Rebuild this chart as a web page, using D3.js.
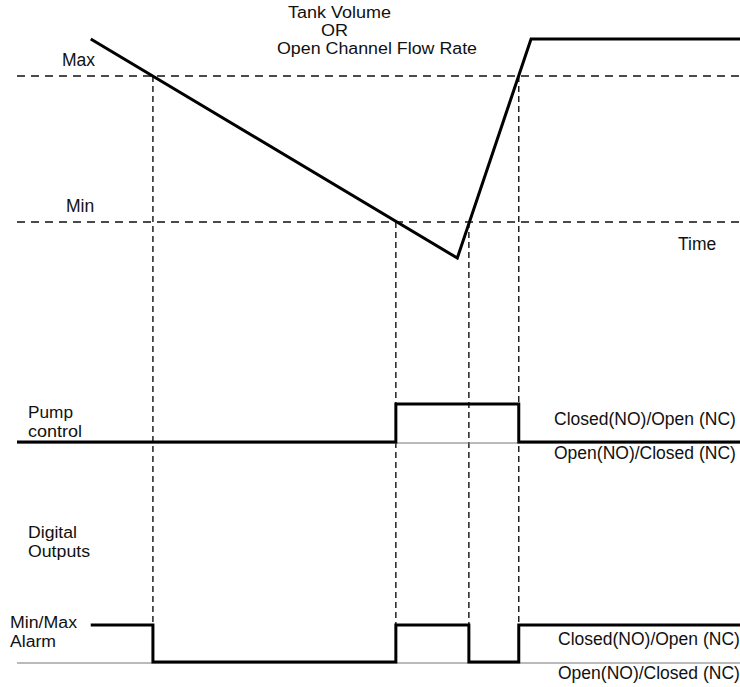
<!DOCTYPE html>
<html>
<head>
<meta charset="utf-8">
<script src="https://cdn.jsdelivr.net/npm/d3@7"></script>
<style>
  html, body { margin: 0; padding: 0; background: #fff; }
  svg text { font-family: "Liberation Sans", Arial, Helvetica, sans-serif; font-size: 17.5px; fill: #111; }
  svg text.stacked { font-size: 16px; }
</style>
</head>
<body>
<div id="app"></div>
<script>
/////////DATA///////////

// level of the tank (0-100), thresholds and the time axis (0-100)
const levelThresholds = [{ name: 'Max', v: 80 }, { name: 'Min', v: 20 }];
const tankTimes = [10.2, 60.9, 71.1, 100];
const tankLevels = [95.2, 5.2, 95.2, 95.2];

// moments where the level crosses a threshold
const crossTimes = [18.8, 52.4, 62.5, 69.4];

// digital outputs: state after each change (1 = Closed(NO)/Open (NC))
const pumpTimes = [0, 52.4, 69.4, 100];
const pumpStates = [0, 1, 0, 0];
const alarmTimes = [10.2, 18.8, 52.4, 62.5, 69.4, 100];
const alarmStates = [1, 0, 1, 0, 1, 1];

const titleLines = ['Tank Volume', 'OR', 'Open Channel Flow Rate'];
const stateLabels = ['Closed(NO)/Open (NC)', 'Open(NO)/Closed (NC)'];

/////////SVG//////////

const w = 740;
const h = 687;

const svg = d3.select('#app')
  .append('svg')
  .attr('width', w)
  .attr('height', h);

const xScale = d3.scaleLinear().domain([0, 100]).range([17, 740]);
const yScale = d3.scaleLinear().domain([0, 100]).range([270.7, 27.3]);
const pumpScale = d3.scaleLinear().domain([0, 1]).range([442, 404]);
const alarmScale = d3.scaleLinear().domain([0, 1]).range([662, 625]);

/////////THRESHOLDS/////////

svg.selectAll('.threshold')
  .data(levelThresholds)
  .enter()
  .append('line')
  .attr('class', 'threshold')
  .attr('x1', xScale(0))
  .attr('x2', xScale(100))
  .attr('y1', d => yScale(d.v))
  .attr('y2', d => yScale(d.v))
  .attr('stroke', '#111')
  .attr('stroke-width', 1.5)
  .attr('stroke-dasharray', '8,6');

svg.selectAll('.thLabel')
  .data(levelThresholds)
  .enter()
  .append('text')
  .attr('class', 'thLabel')
  .attr('x', (d, i) => i == 0 ? 62 : 66)
  .attr('y', d => yScale(d.v) - 10)
  .text(d => d.name);

/////////CROSSINGS/////////

svg.selectAll('.cross')
  .data(crossTimes)
  .enter()
  .append('line')
  .attr('class', 'cross')
  .attr('x1', d => xScale(d))
  .attr('x2', d => xScale(d))
  .attr('y1', (d, i) => (i == 0 || i == 3) ? yScale(80) : yScale(20))
  .attr('y2', alarmScale(0))
  .attr('stroke', '#111')
  .attr('stroke-width', 1.4)
  .attr('stroke-dasharray', '6,4');

/////////TANK LINE/////////

const tankLine = d3.line()
  .x(d => xScale(d[0]))
  .y(d => yScale(d[1]));

svg.append('path')
  .datum(d3.zip(tankTimes, tankLevels))
  .attr('d', tankLine)
  .attr('fill', 'none')
  .attr('stroke', '#000')
  .attr('stroke-width', 3);

// title, stretched a bit wider like the original lettering
svg.append('g')
  .selectAll('text')
  .data(titleLines)
  .enter()
  .append('text')
  .attr('class', 'stacked')
  .attr('x', (d, i) => [288, 321, 277][i])
  .attr('y', (d, i) => 18 + i * 18)
  .attr('textLength', (d, i) => [103, 27, 200][i])
  .attr('lengthAdjust', 'spacingAndGlyphs')
  .text(d => d);

svg.append('text')
  .attr('x', 678)
  .attr('y', 250)
  .text('Time');

/////////DIGITAL OUTPUTS/////////

const stepLine = (scale) => d3.line()
  .curve(d3.curveStepAfter)
  .x(d => xScale(d[0]))
  .y(d => scale(d[1]));

// thin baselines
[pumpScale, alarmScale].forEach(s => {
  svg.append('line')
    .attr('x1', xScale(0))
    .attr('x2', xScale(100))
    .attr('y1', s(0) + 1)
    .attr('y2', s(0) + 1)
    .attr('stroke', '#777')
    .attr('stroke-width', 1.2);
});

svg.append('path')
  .datum(d3.zip(pumpTimes, pumpStates))
  .attr('d', stepLine(pumpScale))
  .attr('fill', 'none')
  .attr('stroke', '#000')
  .attr('stroke-width', 3);

svg.append('path')
  .datum(d3.zip(alarmTimes, alarmStates))
  .attr('d', stepLine(alarmScale))
  .attr('fill', 'none')
  .attr('stroke', '#000')
  .attr('stroke-width', 3);

/////////LABELS/////////

const leftLabels = [
  { lines: ['Pump', 'control'], len: [45, 54], x: 28, y: 418 },
  { lines: ['Digital', 'Outputs'], len: [49, 62], x: 28, y: 538 },
  { lines: ['Min/Max', 'Alarm'], len: [67, 46], x: 10, y: 628 }
];

leftLabels.forEach(l => {
  svg.append('g')
    .selectAll('text')
    .data(l.lines)
    .enter()
    .append('text')
    .attr('class', 'stacked')
    .attr('x', l.x)
    .attr('y', (d, i) => l.y + i * 18.5)
    .attr('textLength', (d, i) => l.len[i])
    .attr('lengthAdjust', 'spacingAndGlyphs')
    .text(d => d);
});

[{ s: pumpScale, x: 554 }, { s: alarmScale, x: 558 }].forEach(c => {
  svg.append('text')
    .attr('x', c.x)
    .attr('y', c.s(0) - 17)
    .text(stateLabels[0]);
  svg.append('text')
    .attr('x', c.x)
    .attr('y', c.s(0) + 17)
    .text(stateLabels[1]);
});
</script>
</body>
</html>
